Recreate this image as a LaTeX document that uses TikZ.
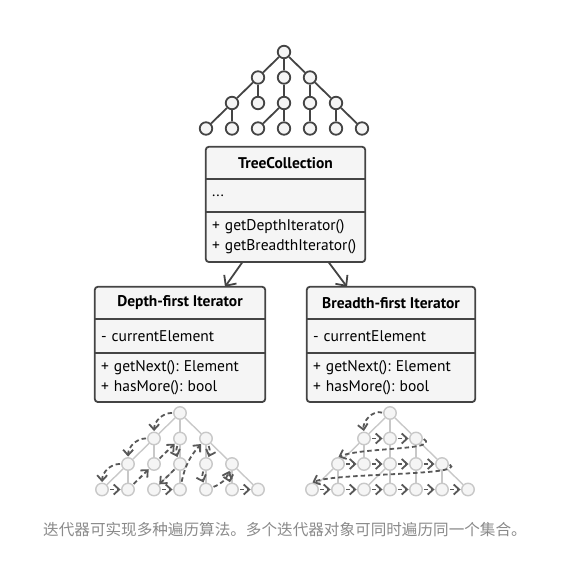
\documentclass[tikz,border=0pt]{standalone}
\usepackage{fontspec}
\setmainfont{PT Sans}
\newfontfamily\cjk{Noto Sans CJK SC}
\usetikzlibrary{positioning, arrows.meta}
\frenchspacing

\definecolor{ink}{HTML}{444444}
\definecolor{pale}{HTML}{F5F5F5}
\definecolor{faint}{HTML}{C8C8C8}
\definecolor{trail}{HTML}{585858}
\definecolor{note}{HTML}{8A8A8A}

\begin{document}
\begin{tikzpicture}[x=1pt, y=1pt,
    font=\fontsize{15.5}{20}\selectfont,
    knot/.style={circle, fill=pale, minimum size=12.5pt, inner sep=0pt},
    head/.style={fill=pale, minimum width=#1pt, minimum height=32pt, inner sep=0pt, font=\fontsize{15.5}{20}\selectfont\bfseries},
    part/.style={fill=pale, text width=#1pt, inner xsep=6pt, inner ysep=0pt, align=left},
    frame/.style={draw=ink, line width=1.8pt, rounded corners=3pt},
    uses/.style={-{Straight Barb[length=8pt, width=15pt]}, draw=ink, line width=1.8pt},
    walk/.style={-{Straight Barb[length=5.5pt, width=10pt]}, draw=trail, line width=1.8pt, dash pattern=on 4.5pt off 3pt, shorten >=0.5pt, shorten <=1pt}]
   \useasboundingbox (0,0) rectangle (568,-565);

   % The three trees
   \foreach \p/\x/\y/\col/\w in {t/284/52/ink/1.8, d/180/413/faint/1.4, b/390/413/faint/1.4}{
     \foreach \l [evaluate=\l as \n using int(2*\l+1)] in {0,...,3}
       \foreach \k in {1,...,\n}
         \node[knot, draw=\col, line width=\w pt] (\p\l\k) at ({\x+(\k-\l-1)*26}, {-\y-\l*25.5}) {};
     \foreach \a/\b in {01/11, 01/12, 01/13, 11/21, 11/22, 12/23, 13/24, 13/25, 21/31, 21/32, 23/33, 23/34, 24/35, 25/36, 25/37}
       \draw[draw=\col, line width=\w pt] (\p\a) -- (\p\b);
   }

   % TreeCollection
   \node[head=159] (tc) at (285.5,-163) {TreeCollection};
   \node[part=147, minimum height=32pt, below=0pt of tc] (tcA) {...};
   \node[part=147, minimum height=50pt, below=0pt of tcA] (tcM) {+ getDepthIterator()\\+ getBreadthIterator()};
   \draw[frame] (tc.north west) rectangle (tcM.south east);
   \draw[frame] (tcA.north west) -- (tcA.north east) (tcA.south west) -- (tcA.south east);

   % Depth-first iterator
   \node[head=170] (df) at (180,-303) {Depth-first Iterator};
   \node[part=158, minimum height=33pt, below=0pt of df] (dfA) {- currentElement};
   \node[part=158, minimum height=49pt, below=0pt of dfA] (dfM) {+ getNext(): Element\\+ hasMore(): bool};
   \draw[frame] (df.north west) rectangle (dfM.south east);
   \draw[frame] (dfA.north west) -- (dfA.north east) (dfA.south west) -- (dfA.south east);

   % Breadth-first iterator
   \node[head=168] (bf) at (391,-303) {Breadth-first Iterator};
   \node[part=156, minimum height=33pt, below=0pt of bf] (bfA) {- currentElement};
   \node[part=156, minimum height=49pt, below=0pt of bfA] (bfM) {+ getNext(): Element\\+ hasMore(): bool};
   \draw[frame] (bf.north west) rectangle (bfM.south east);
   \draw[frame] (bfA.north west) -- (bfA.north east) (bfA.south west) -- (bfA.south east);

   \draw[uses] ([xshift=-43pt]tcM.south) -- ([xshift=45pt]df.north);
   \draw[uses] ([xshift=43pt]tcM.south) -- ([xshift=-44pt]bf.north);

   % Depth-first walk
   \foreach \a/\b/\k in {01/11/45, 11/21/45, 21/31/45, 31/32/0, 32/22/0, 22/12/0, 12/23/20, 23/33/0, 33/34/0, 34/13/-15, 13/24/-20, 24/35/20, 35/25/25, 25/36/15, 36/37/0}
     \draw[walk] (d\a) to[bend right=\k] (d\b);

   % Breadth-first walk
   \foreach \a/\b in {11/12, 12/13, 21/22, 22/23, 23/24, 24/25, 31/32, 32/33, 33/34, 34/35, 35/36, 36/37}
     \draw[walk] (b\a) -- (b\b);
   \draw[walk] (b01.west) to[out=160, in=100] (b11.north);
   \draw[walk] (b13.east) .. controls +(18,-12) and +(25,10) .. (b21.north);
   \draw[walk] (b25.east) .. controls +(18,-12) and +(25,10) .. (b31.north);

   \node[font=\cjk\fontsize{15.6}{18}\selectfont, text=note] (caption) at (285,-530) {迭代器可实现多种遍历算法。多个迭代器对象可同时遍历同一个集合。};
\end{tikzpicture}
\end{document}
